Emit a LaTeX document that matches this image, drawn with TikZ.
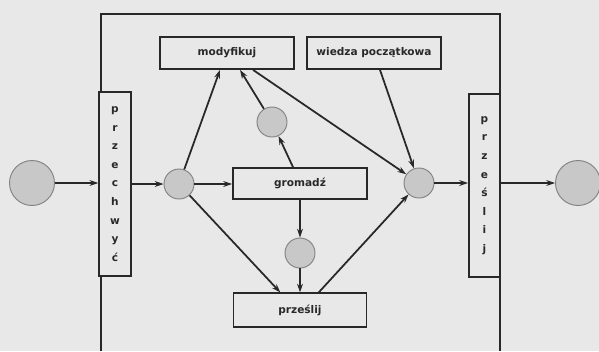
\documentclass[tikz,border=0pt]{standalone}
\usepackage{fontspec}
\setsansfont{DejaVu Sans}
\usetikzlibrary{arrows.meta}
\definecolor{paper}{RGB}{232,232,232}
\definecolor{ink}{RGB}{40,40,40}
\definecolor{dot}{RGB}{200,200,200}

\begin{document}
\begin{tikzpicture}[x=0.03cm,y=-0.03cm,
  line width=1.5pt,
  flow/.style={draw=ink,-{Stealth[length=7.5pt,width=5pt]}},
  stage/.style={draw=ink,fill=paper,inner sep=0pt,text=ink,
    font=\sffamily\bfseries\fontsize{9}{11}\selectfont},
  vstage/.style={stage,align=center,minimum width=0.95cm,minimum height=5.5cm,
    font=\sffamily\bfseries\fontsize{9}{15.9}\selectfont},
  state/.style={circle,draw={rgb,255:red,130;green,130;blue,130},line width=0.8pt,fill=dot,minimum size=0.9cm,inner sep=0pt},
  bigstate/.style={state,minimum size=1.35cm}]
\fill[paper] (0,0) rectangle (599,351);
\useasboundingbox (0,0) rectangle (599,351);
% frame
\draw[ink] (101,351) -- (101,14) -- (500,14) -- (500,351);
% stages
\node[vstage] (chwyc) at (115,184) {p\\r\\z\\e\\c\\h\\w\\y\\ć};
\node[vstage,minimum width=0.93cm] (slij) at (484.5,185.5) {p\\r\\z\\e\\ś\\l\\i\\j};
\node[stage,minimum width=4.02cm,minimum height=0.96cm] (mod) at (227,53) {modyfikuj};
\node[stage,minimum width=4.02cm,minimum height=0.96cm] (wiedza) at (374,53) {wiedza początkowa};
\node[stage,minimum width=4.02cm,minimum height=0.93cm] (grom) at (300,183.5) {gromadź};
\node[stage,minimum width=3.99cm,minimum height=1.0cm] (prze) at (300,310) {prześlij};
% states
\node[bigstate] (in) at (32,183) {};
\node[state] (a) at (179,184) {};
\node[state] (s) at (272,122) {};
\node[state] (c) at (300,253) {};
\node[state] (d) at (419,183) {};
\node[bigstate] (out) at (578,183) {};
% arrows
\draw[flow] (in) -- (in -| chwyc.west);
\draw[flow] (a -| chwyc.east) -- (a);
\draw[flow] (a) -- (a -| grom.west);
\draw[flow] (a) -- ([xshift=-0.21cm]mod.south);
\draw[flow] (a) -- ([xshift=-0.59cm]prze.north);
\draw[flow] ([xshift=-0.21cm]grom.north) -- (s);
\draw[flow] (s) -- ([xshift=0.39cm]mod.south);
\draw[flow] ([xshift=0.78cm]mod.south) -- (d);
\draw[flow] ([xshift=0.18cm]wiedza.south) -- (d);
\draw[flow] (grom.south) -- (c);
\draw[flow] (c) -- (prze.north);
\draw[flow] ([xshift=0.56cm]prze.north) -- (d);
\draw[flow] (d) -- (d -| slij.west);
\draw[flow] (out -| slij.east) -- (out);
\end{tikzpicture}
\end{document}
